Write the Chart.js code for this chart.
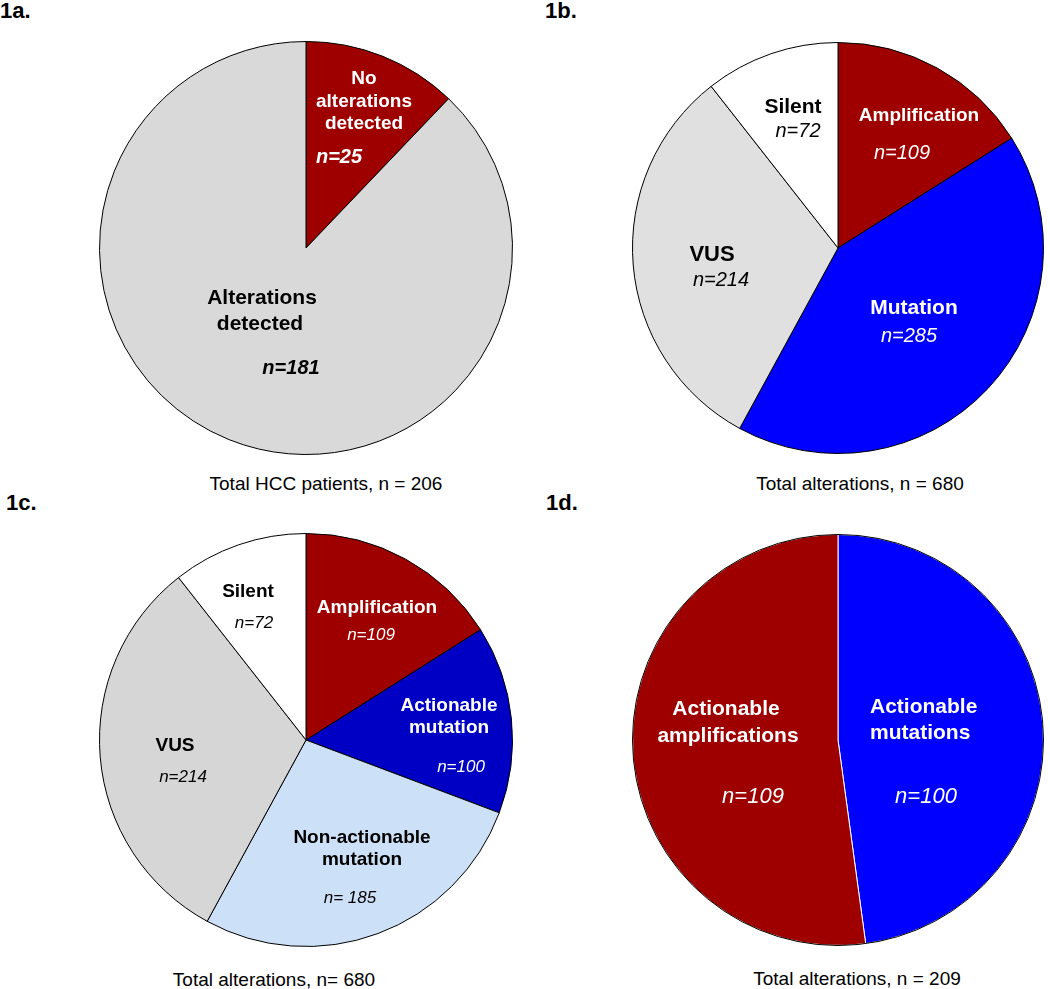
<!DOCTYPE html>
<html>
<head>
<meta charset="utf-8">
<script src="https://cdn.jsdelivr.net/npm/chart.js@4/dist/chart.umd.min.js"></script>
<style>
  html, body { margin:0; padding:0; background:#fff; }
  body { width:1050px; height:989px; position:relative; overflow:hidden; font-family:"Liberation Sans", Arial, sans-serif; }
  canvas { position:absolute; }
  .plabel { position:absolute; font-weight:bold; font-size:22px; line-height:22px; color:#000; white-space:nowrap; }
  .cap { position:absolute; font-size:19px; line-height:19px; color:#000; width:320px; text-align:center; white-space:nowrap; }
</style>
</head>
<body>
<div class="plabel" style="left:0px;top:0px;">1a.</div>
<div class="plabel" style="left:545px;top:0px;">1b.</div>
<div class="plabel" style="left:6px;top:492px;">1c.</div>
<div class="plabel" style="left:546px;top:492px;">1d.</div>
<div class="cap" style="left:166px;top:474px;">Total HCC patients, n = 206</div>
<div class="cap" style="left:700px;top:474px;">Total alterations, n = 680</div>
<div class="cap" style="left:114px;top:970px;">Total alterations, n= 680</div>
<div class="cap" style="left:697px;top:969px;">Total alterations, n = 209</div>

<canvas id="ca" width="525" height="495" style="left:0;top:0;"></canvas>
<canvas id="cb" width="525" height="495" style="left:525px;top:0;"></canvas>
<canvas id="cc" width="525" height="494" style="left:0;top:495px;"></canvas>
<canvas id="cd" width="525" height="494" style="left:525px;top:495px;"></canvas>

<script>
// ---- Data ----
const catsA = ['No alterations detected', 'Alterations detected'];
const valsA = [25, 181];

const catsB = ['Amplification', 'Mutation', 'VUS', 'Silent'];
const valsB = [109, 285, 214, 72];

const catsC = ['Amplification', 'Actionable mutation', 'Non-actionable mutation', 'VUS', 'Silent'];
const valsC = [109, 100, 185, 214, 72];

const catsD = ['Actionable mutations', 'Actionable amplifications'];
const valsD = [100, 109];

// ---- Styles ----
const RED = '#9E0000';
const colorsA = [RED, '#D9D9D9'];
const colorsB = [RED, '#0000FF', '#E0E0E0', '#FFFFFF'];
const colorsC = [RED, '#0000C4', '#CCE0F7', '#D6D6D6', '#FFFFFF'];
const colorsD = ['#0000FF', RED];

const FONT = '"Liberation Sans", Arial, sans-serif';

// Text annotations inside slices: offsets (px) from the pie centre
const textA = [
  {t:'No', dx:58, dy:-169, f:'bold 19px', c:'#fff'},
  {t:'alterations', dx:58, dy:-146, f:'bold 19px', c:'#fff'},
  {t:'detected', dx:58, dy:-124, f:'bold 19px', c:'#fff'},
  {t:'n=' + valsA[0], dx:33, dy:-91, f:'italic bold 20px', c:'#fff'},
  {t:'Alterations', dx:-44, dy:50, f:'bold 21px', c:'#000'},
  {t:'detected', dx:-46, dy:76, f:'bold 21px', c:'#000'},
  {t:'n=' + valsA[1], dx:-15, dy:120, f:'italic bold 20px', c:'#000'}
];
const textB = [
  {t:'Silent', dx:-45, dy:-141, f:'bold 21px', c:'#000'},
  {t:'n=' + valsB[3], dx:-40, dy:-117, f:'italic 20px', c:'#000'},
  {t:'Amplification', dx:81, dy:-132, f:'bold 19px', c:'#fff'},
  {t:'n=' + valsB[0], dx:64, dy:-95, f:'italic 20px', c:'#fff'},
  {t:'VUS', dx:-126, dy:7, f:'bold 22px', c:'#000'},
  {t:'n=' + valsB[2], dx:-117, dy:32, f:'italic 20px', c:'#000'},
  {t:'Mutation', dx:76, dy:60, f:'bold 21px', c:'#fff'},
  {t:'n=' + valsB[1], dx:71, dy:88, f:'italic 20px', c:'#fff'}
];
const textC = [
  {t:'Silent', dx:-58, dy:-148, f:'bold 19px', c:'#000'},
  {t:'n=' + valsC[4], dx:-52, dy:-117, f:'italic 17px', c:'#000'},
  {t:'Amplification', dx:71, dy:-132, f:'bold 19px', c:'#fff'},
  {t:'n=' + valsC[0], dx:65, dy:-105, f:'italic 17px', c:'#fff'},
  {t:'Actionable', dx:143, dy:-34, f:'bold 19px', c:'#fff'},
  {t:'mutation', dx:143, dy:-12, f:'bold 19px', c:'#fff'},
  {t:'n=' + valsC[1], dx:155, dy:27, f:'italic 17px', c:'#fff'},
  {t:'Non-actionable', dx:56, dy:98, f:'bold 19px', c:'#000'},
  {t:'mutation', dx:56, dy:120, f:'bold 19px', c:'#000'},
  {t:'n= ' + valsC[2], dx:44, dy:158, f:'italic 17px', c:'#000'},
  {t:'VUS', dx:-131, dy:6, f:'bold 19px', c:'#000'},
  {t:'n=' + valsC[3], dx:-123, dy:37, f:'italic 17px', c:'#000'}
];
const textD = [
  {t:'Actionable', dx:-112, dy:-31, f:'bold 21px', c:'#fff'},
  {t:'amplifications', dx:-110, dy:-4, f:'bold 21px', c:'#fff'},
  {t:'n=' + valsD[1], dx:-85, dy:57, f:'italic 22px', c:'#fff'},
  {t:'Actionable', dx:32, dy:-33, f:'bold 21px', c:'#fff', a:'left'},
  {t:'mutations', dx:32, dy:-7, f:'bold 21px', c:'#fff', a:'left'},
  {t:'n=' + valsD[0], dx:88, dy:57, f:'italic 22px', c:'#fff'}
];

const sliceText = {
  id: 'sliceText',
  afterDatasetsDraw(chart, args, opts) {
    const arc = chart.getDatasetMeta(0).data[0];
    if (!arc) return;
    const ctx = chart.ctx;
    ctx.save();
    if (opts.outline) {
      ctx.beginPath();
      ctx.arc(arc.x, arc.y, arc.outerRadius, 0, Math.PI * 2);
      ctx.lineWidth = 1;
      ctx.strokeStyle = opts.outline;
      ctx.stroke();
    }
    ctx.textBaseline = 'middle';
    (opts.items || []).forEach(it => {
      ctx.font = it.f + ' ' + FONT;
      ctx.fillStyle = it.c;
      ctx.textAlign = it.a || 'center';
      ctx.fillText(it.t, arc.x + it.dx, arc.y + it.dy);
    });
    ctx.restore();
  }
};

function makePie(id, cats, vals, colors, border, pad, items, outline) {
  return new Chart(document.getElementById(id), {
    type: 'pie',
    data: {
      labels: cats,
      datasets: [{
        data: vals,
        backgroundColor: colors,
        borderColor: border,
        borderWidth: 1,
        hoverOffset: 0
      }]
    },
    options: {
      responsive: false,
      animation: false,
      events: [],
      layout: { padding: pad },
      plugins: {
        legend: { display: false },
        tooltip: { enabled: false },
        title: { display: false },
        sliceText: { items: items, outline: outline }
      }
    },
    plugins: [sliceText]
  });
}

makePie('ca', catsA, valsA, colorsA, '#000', {left:99, right:12, top:41, bottom:40}, textA, null);
makePie('cb', catsB, valsB, colorsB, '#000', {left:107, right:6, top:42, bottom:41}, textB, null);
makePie('cc', catsC, valsC, colorsC, '#000', {left:99, right:12, top:38, bottom:42}, textC, null);
makePie('cd', catsD, valsD, colorsD, '#FFFFFF', {left:107, right:6, top:39, bottom:43}, textD, '#000');
</script>
</body>
</html>
